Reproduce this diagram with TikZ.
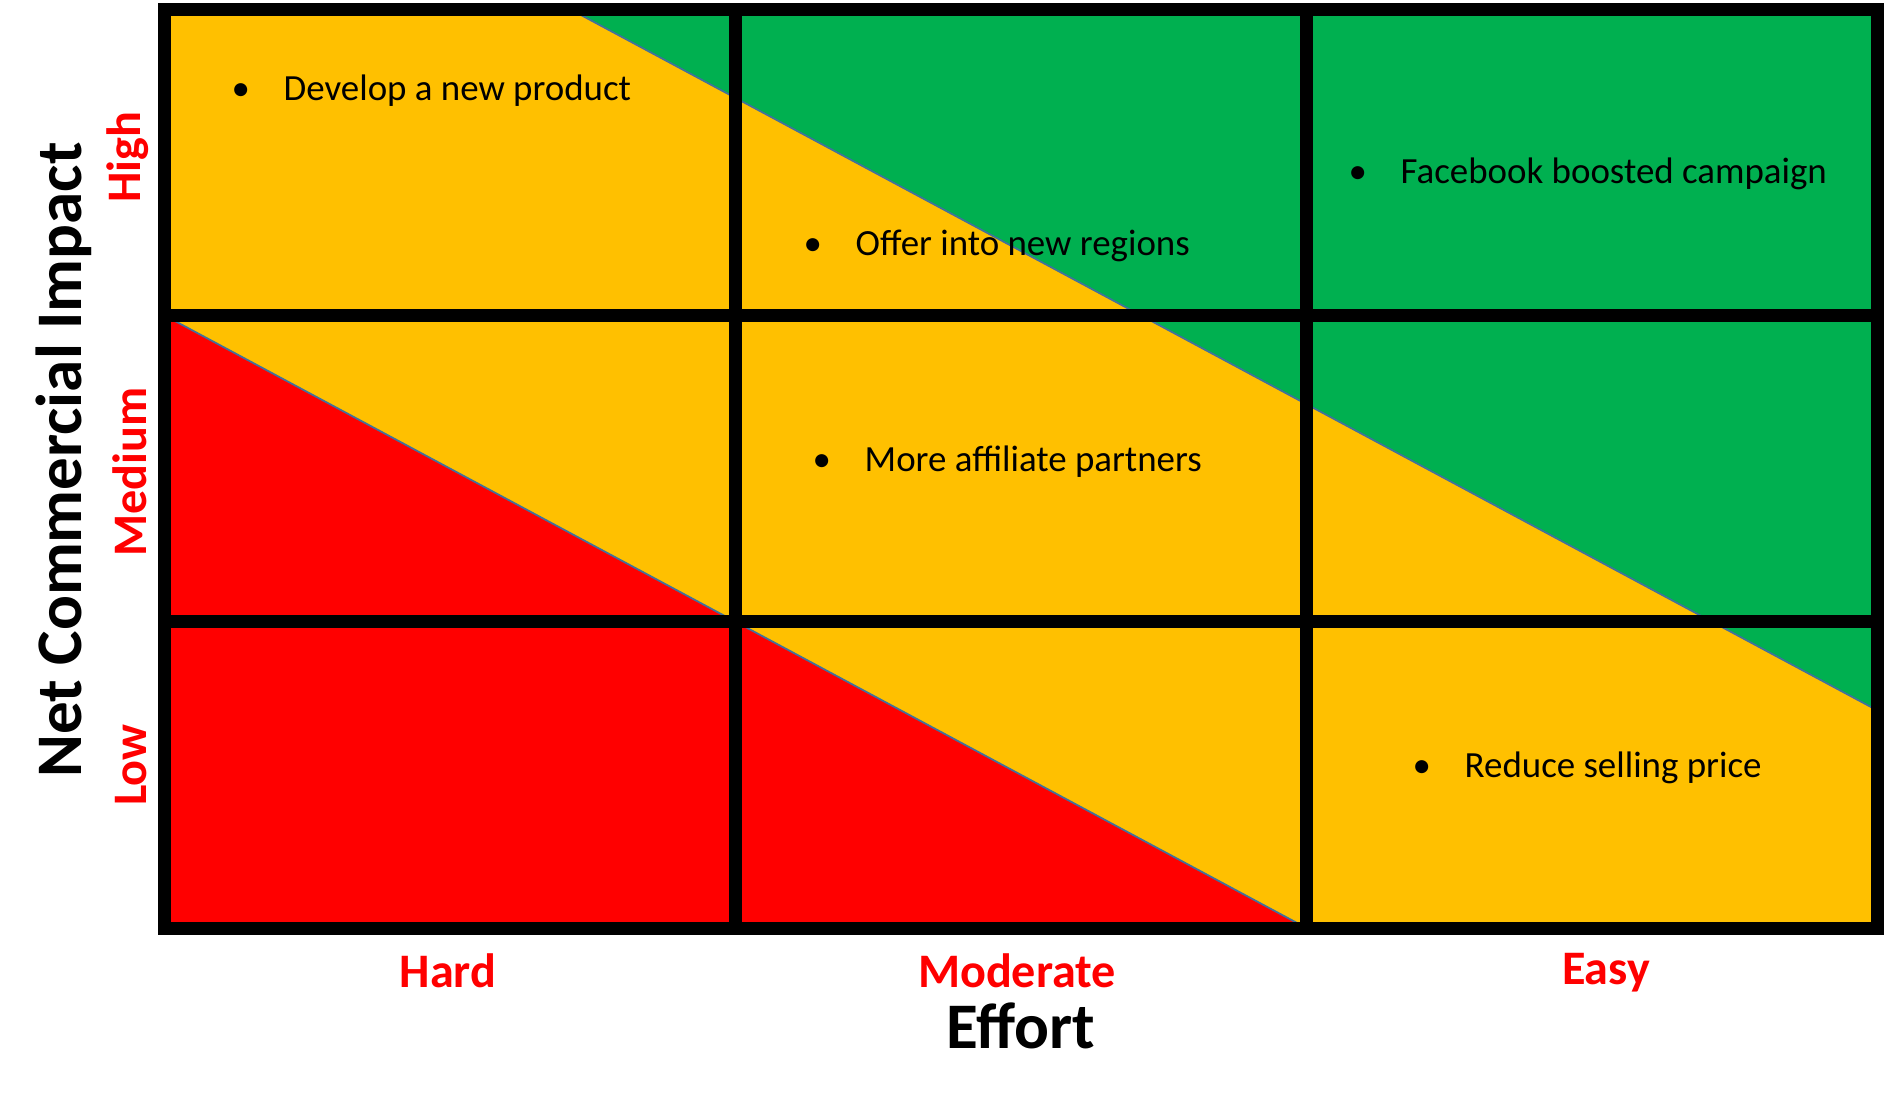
\documentclass[tikz,border=0pt]{standalone}
\usepackage{fontspec}
\setmainfont{Carlito}
\definecolor{amber}{HTML}{FFC000}
\definecolor{grn}{HTML}{00B050}
\definecolor{edgeblue}{HTML}{41719C}
\newcommand{\bul}{\llap{\makebox[0.86cm][c]{•}}}

\begin{document}
\begin{tikzpicture}[
    item/.style={anchor=base west,inner sep=0pt,font=\fontsize{10.5}{12}\selectfont},
    level/.style={anchor=base,inner sep=0pt,text=red,font=\bfseries\fontsize{13.7}{16}\selectfont},
    axis title/.style={anchor=base,inner sep=0pt,font=\bfseries\fontsize{18.5}{22}\selectfont},
    gridline/.style={line width=3.7pt,line cap=rect}
]
\useasboundingbox (0,0) rectangle (18.85,11.07);

% zones: 3x3 cells
\begin{scope}[shift={(1.645,1.79)},x=5.71cm,y=3.063cm]
\fill[amber](0,0) rectangle (3,3);
\fill[grn](0.71,3)--(3,3)--(3,0.71)--cycle;
\fill[red](0,2)--(2,0)--(0,0)--cycle;
\draw[edgeblue,line width=0.5pt](0.71,3)--(3,0.71) (0,2)--(2,0);

\foreach \i in {1,2}
  \draw[gridline](\i,0)--(\i,3) (0,\i)--(3,\i);
\draw[gridline,line join=miter](0,0) rectangle (3,3);
\end{scope}

% items
\node[item] (develop) at (2.83,10.07) {\bul Develop a new product};
\node[item] (facebook) at (14.00,9.24) {\bul Facebook boosted campaign};
\node[item] (offer) at (8.55,8.52) {\bul Offer into new regions};
\node[item] (affiliate) at (8.64,6.36) {\bul More affiliate partners};
\node[item] (reduce) at (14.64,3.30) {\bul Reduce selling price};

% axes
\node[level,rotate=90] (high) at (1.40,9.50) {High};
\node[level,rotate=90] (medium) at (1.46,6.35) {Medium};
\node[level,rotate=90] (low) at (1.46,3.42) {Low};
\node[axis title,rotate=90] (impact) at (0.82,6.47) {Net Commercial Impact};

\node[level] (hard) at (4.48,1.20) {Hard};
\node[level] (moderate) at (10.17,1.20) {Moderate};
\node[level] (easy) at (16.06,1.23) {Easy};
\node[axis title] (effort) at (10.21,0.59) {Effort};
\end{tikzpicture}
\end{document}
